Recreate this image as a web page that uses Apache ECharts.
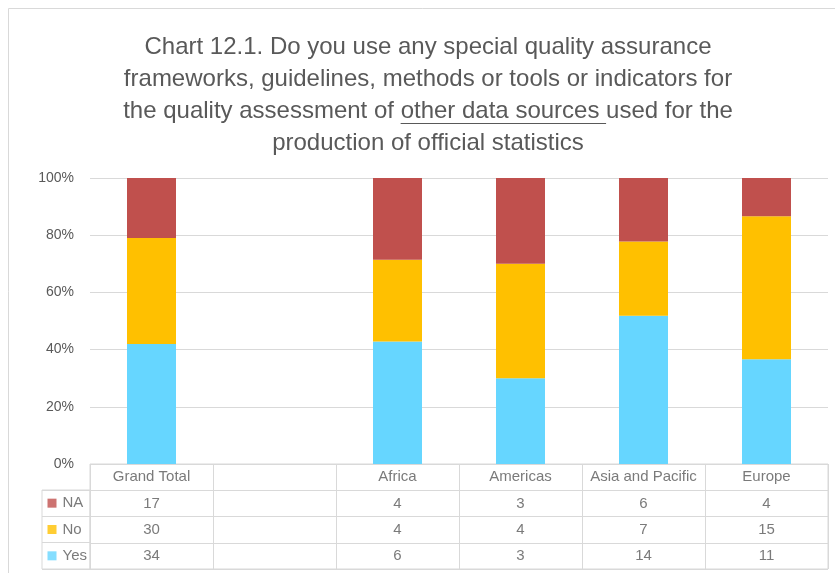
<!DOCTYPE html>
<html>
<head>
<meta charset="utf-8">
<script src="https://cdn.jsdelivr.net/npm/echarts@6/dist/echarts.min.js"></script>
<style>
  html, body { margin: 0; padding: 0; background: #fff; }
  #chart { width: 835px; height: 573px; }
</style>
</head>
<body>
<div id="chart"></div>
<script>
// data
const categories = ['Grand Total', '', 'Africa', 'Americas', 'Asia and Pacific', 'Europe']
const naCounts = [17, null, 4, 3, 6, 4]
const noCounts = [30, null, 4, 4, 7, 15]
const yesCounts = [34, null, 6, 3, 14, 11]
const seriesNames = ['NA', 'No', 'Yes']
const yTicks = [0, 20, 40, 60, 80, 100]

const titleLines = [
  'Chart 12.1. Do you use any special quality assurance',
  'frameworks, guidelines, methods or tools or indicators for',
  'the quality assessment of other data sources used for the',
  'production of official statistics'
]
const underlined = 'other data sources '

const colors = { NA: '#C0504D', No: '#FFC000', Yes: '#66D6FF' }
const textColor = '#595959'
const lineColor = '#d9d9d9'
const font = '"Liberation Sans", Arial, sans-serif'
const titleSize = 24
const titleCenter = 428
const titleTop = 31
const titleLineHeight = 32

// share of each answer in its column (100% stacked)
const pct = (arr) => arr.map((v, i) => {
  if (v == null) return null
  const total = naCounts[i] + noCounts[i] + yesCounts[i]
  return v / total * 100
})

// table cells: header row + one row per answer
const tableCells = []
categories.forEach((c, i) => {
  if (c) tableCells.push([i, 0, c])
})
const countRows = [naCounts, noCounts, yesCounts]
countRows.forEach((row, r) => {
  row.forEach((v, i) => {
    if (v != null) tableCells.push([i, r + 1, String(v)])
  })
})

// where the underline goes in the third title line
const ctx = document.createElement('canvas').getContext('2d')
ctx.font = `${titleSize}px ${font}`
const line3 = titleLines[2]
const uStart = line3.indexOf(underlined)
const lineW = ctx.measureText(line3).width
const ux1 = titleCenter - lineW / 2 + ctx.measureText(line3.slice(0, uStart)).width
const ux2 = ux1 + ctx.measureText(underlined).width
const uy = titleTop + titleLineHeight * 2.5 + 12.5

const chart = echarts.init(document.getElementById('chart'))

const barSeries = (name, values) => ({
  name,
  type: 'bar',
  stack: 'total',
  barWidth: 49,
  xAxisIndex: 0,
  yAxisIndex: 0,
  data: pct(values),
  itemStyle: { color: colors[name] }
})

chart.setOption({
  animation: false,
  textStyle: { fontFamily: font },
  title: {
    left: titleCenter,
    top: titleTop,
    padding: 0,
    textAlign: 'center',
    text: titleLines.join('\n'),
    textStyle: { color: textColor, fontSize: titleSize, fontWeight: 'normal', lineHeight: titleLineHeight, fontFamily: font }
  },
  graphic: [
    // outer chart border
    { type: 'rect', shape: { x: 8.5, y: 8.5, width: 840, height: 580 }, style: { fill: 'none', stroke: lineColor, lineWidth: 1 }, silent: true },
    // underline under "other data sources"
    { type: 'line', shape: { x1: ux1, y1: uy, x2: ux2, y2: uy }, style: { stroke: textColor, lineWidth: 1 }, silent: true }
  ],
  grid: [
    { left: 90, top: 178, width: 738, height: 286 },
    { left: 90, top: 464, width: 738, height: 105, show: true, borderColor: lineColor, borderWidth: 1 },
    { left: 42, top: 490, width: 48, height: 79, show: true, borderColor: lineColor, borderWidth: 1 }
  ],
  xAxis: [
    {
      gridIndex: 0, type: 'category', data: categories,
      axisLine: { show: false }, axisTick: { show: false }, axisLabel: { show: false }
    },
    {
      gridIndex: 1, type: 'category', data: categories,
      axisLine: { show: false }, axisTick: { show: false },
      axisLabel: { show: false, interval: 0 },
      splitLine: { show: true, interval: 0, lineStyle: { color: lineColor } }
    },
    {
      gridIndex: 2, type: 'value', min: 0, max: 48,
      axisLine: { show: false }, axisTick: { show: false }, axisLabel: { show: false }, splitLine: { show: false }
    }
  ],
  yAxis: [
    {
      gridIndex: 0, type: 'value', min: yTicks[0], max: yTicks[yTicks.length - 1], interval: 20,
      axisLine: { show: false }, axisTick: { show: false },
      axisLabel: { color: textColor, fontSize: 14, margin: 16, formatter: '{value}%' },
      splitLine: { lineStyle: { color: lineColor, width: 1 } }
    },
    {
      gridIndex: 1, type: 'category', inverse: true, data: ['', ...seriesNames],
      axisLine: { show: false }, axisTick: { show: false },
      axisLabel: { show: false, interval: 0 },
      splitLine: { show: true, interval: 0, lineStyle: { color: lineColor } }
    },
    {
      gridIndex: 2, type: 'category', inverse: true, data: seriesNames,
      axisLine: { show: false }, axisTick: { show: false },
      axisLabel: { show: false, interval: 0 },
      splitLine: { show: true, interval: 0, lineStyle: { color: lineColor } }
    }
  ],
  series: [
    barSeries('Yes', yesCounts),
    barSeries('No', noCounts),
    barSeries('NA', naCounts),
    // data table text
    {
      type: 'scatter',
      xAxisIndex: 1,
      yAxisIndex: 1,
      symbolSize: 1,
      itemStyle: { color: 'rgba(0,0,0,0)' },
      data: tableCells,
      label: {
        show: true, position: 'inside', color: textColor, fontSize: 15,
        formatter: (p) => p.value[2]
      },
      silent: true
    },
    // legend keys in the table
    {
      type: 'scatter',
      xAxisIndex: 2,
      yAxisIndex: 2,
      symbol: 'rect',
      symbolSize: 9,
      data: seriesNames.map((n) => ({ value: [10, n], name: n, itemStyle: { color: colors[n] } })),
      label: {
        show: true, position: 'right', distance: 6, color: textColor, fontSize: 15,
        formatter: (p) => p.name
      },
      silent: true
    }
  ]
})
</script>
</body>
</html>
